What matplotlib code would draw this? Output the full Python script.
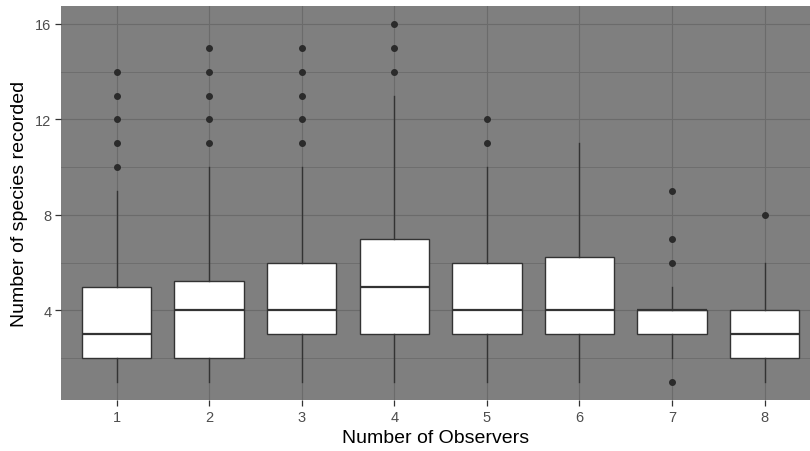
import numpy as np
import matplotlib
matplotlib.use('Agg')
import matplotlib.pyplot as plt

plt.rcParams['font.family'] = ['Liberation Sans', 'DejaVu Sans']

# Box statistics
groups = [1, 2, 3, 4, 5, 6, 7, 8]
whislo = [1, 1, 1, 1, 1, 1, 2, 1]
q1 = [2, 2, 3, 3, 3, 3, 3, 2]
med = [3, 4, 4, 5, 4, 4, 4, 3]
q3 = [5, 5.25, 6, 7, 6, 6.25, 4, 4]
whishi = [9, 10, 10, 13, 10, 11, 5, 6]
fliers = [
    [10, 11, 12, 13, 14],
    [11, 12, 13, 14, 15],
    [11, 12, 13, 14, 15],
    [14, 15, 16],
    [11, 12],
    [],
    [1, 6, 7, 9],
    [8],
]

stats = []
for i in range(len(groups)):
    stats.append(dict(label=str(groups[i]), whislo=whislo[i], q1=q1[i], med=med[i],
                      q3=q3[i], whishi=whishi[i], fliers=fliers[i]))

dark = '#333333'

fig = plt.figure(figsize=(8.1, 4.52), dpi=100)
ax = fig.add_axes([61 / 810, 1 - 401 / 452, 749 / 810, 394 / 452])
ax.set_facecolor('#7f7f7f')

ax.bxp(stats, positions=groups, widths=0.75, patch_artist=True, showcaps=False,
       boxprops=dict(facecolor='white', edgecolor=dark, linewidth=1.0),
       medianprops=dict(color=dark, linewidth=1.6),
       whiskerprops=dict(color=dark, linewidth=1.0),
       flierprops=dict(marker='o', markersize=4, markerfacecolor='#2b2b2b',
                       markeredgecolor='#2b2b2b', linestyle='none'))

ax.set_xlim(0.4, 8.49)
ax.set_ylim(0.25, 16.75)
ax.set_yticks([4, 8, 12, 16])
ax.set_yticks([2, 6, 10, 14], minor=True)
ax.set_xticks(groups)
ax.set_xticklabels([str(g) for g in groups])

ax.grid(True, which='major', color='#6b6b6b', linewidth=0.8)
ax.grid(True, which='minor', axis='y', color='#6b6b6b', linewidth=0.6)
ax.set_axisbelow(True)
for s in ax.spines.values():
    s.set_visible(False)

ax.tick_params(axis='both', which='major', length=4, width=0.9, color=dark,
               labelcolor='#4d4d4d', labelsize=10.5, pad=3)
ax.tick_params(axis='both', which='minor', length=0)

ax.set_xlabel('Number of Observers', fontsize=14, color='black', labelpad=4)
ax.set_ylabel('Number of species recorded', fontsize=14, color='black', labelpad=5)

fig.savefig('out.png', dpi=100)
